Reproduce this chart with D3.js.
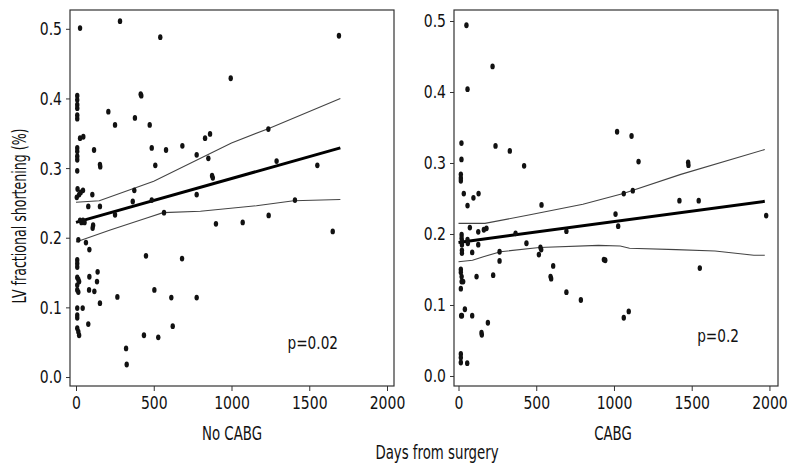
<!DOCTYPE html>
<html><head><meta charset="utf-8">
<script src="https://cdn.jsdelivr.net/npm/d3@7"></script>
<style>
body{margin:0;background:#fff;}
text{font-family:"Liberation Sans Narrow","DejaVu Sans Condensed","Roboto Condensed",sans-serif;font-stretch:condensed;fill:#111;}
</style></head>
<body><svg id="c" width="800" height="463"></svg>
<script>
// ---- data ----
const xTicks = [0, 500, 1000, 1500, 2000];
const yTicks = [0.0, 0.1, 0.2, 0.3, 0.4, 0.5];
const panelTitles = ["No CABG", "CABG"];
const pValues = ["p=0.02", "p=0.2"];

const noCabgPoints = [
[26,0.501],[283,0.511],[542,0.488],[1691,0.490],[995,0.429],
[8,0.404],[8,0.398],[8,0.391],[8,0.386],[8,0.376],[8,0.371],
[416,0.406],[420,0.404],
[208,0.381],[251,0.362],[379,0.372],[474,0.362],[487,0.329],[510,0.304],[579,0.326],[684,0.332],[776,0.319],[830,0.343],[862,0.349],[851,0.314],[875,0.289],[880,0.286],[1237,0.356],[1290,0.310],[1552,0.304],
[776,0.262],
[26,0.343],[47,0.345],[116,0.326],
[8,0.329],[8,0.324],[8,0.317],[8,0.312],[8,0.296],
[154,0.305],[156,0.302],
[10,0.270],[20,0.262],[30,0.265],[45,0.268],[5,0.258],
[105,0.262],[79,0.245],[154,0.245],[251,0.233],[375,0.268],[365,0.252],[487,0.254],[566,0.236],[900,0.220],[1072,0.222],[1239,0.232],[1651,0.209],[1408,0.254],
[26,0.225],[35,0.222],[45,0.225],[55,0.222],[107,0.214],[110,0.218],
[15,0.197],[64,0.193],[86,0.183],
[8,0.168],[8,0.163],[8,0.158],[8,0.143],[15,0.140],[20,0.137],[8,0.132],[8,0.125],[15,0.122],
[86,0.144],[84,0.125],[118,0.123],[139,0.151],[135,0.137],[154,0.106],[266,0.115],
[43,0.099],[8,0.099],[8,0.089],[8,0.085],[8,0.070],[15,0.065],[20,0.060],[79,0.076],
[450,0.174],[682,0.170],[504,0.125],[613,0.114],[776,0.114],[437,0.060],[529,0.057],[622,0.073],[322,0.041],[326,0.018]
];
const noCabgFit   = [[0,0.222],[1700,0.329]];
const noCabgUpper = [[0,0.251],[150,0.253],[500,0.281],[1000,0.336],[1240,0.357],[1700,0.400]];
const noCabgLower = [[0,0.194],[220,0.211],[450,0.228],[560,0.236],[800,0.238],[1160,0.246],[1400,0.253],[1700,0.255]];

const cabgPoints = [
[51,0.494],[58,0.404],[219,0.436],[19,0.328],[19,0.305],[15,0.284],[15,0.279],[15,0.275],[238,0.324],[330,0.317],[422,0.296],[34,0.257],[58,0.240],[96,0.251],[129,0.257],[534,0.241],
[20,0.199],[20,0.194],[22,0.190],[22,0.185],[22,0.177],[22,0.173],[73,0.209],[58,0.192],[60,0.187],[88,0.174],[127,0.203],[127,0.185],[163,0.206],[180,0.208],[367,0.201],[264,0.175],[264,0.162],[437,0.187],[517,0.171],[527,0.181],[532,0.178],[694,0.204],[592,0.140],[596,0.137],[609,0.155],[694,0.118],[787,0.107],[223,0.142],[116,0.140],
[15,0.150],[15,0.146],[20,0.140],[20,0.133],[30,0.133],[15,0.123],
[41,0.094],[17,0.085],[22,0.085],[88,0.085],[189,0.075],[148,0.061],[150,0.058],
[15,0.031],[15,0.026],[15,0.019],[56,0.018],
[1020,0.344],[1113,0.338],[1158,0.302],[1477,0.301],[1479,0.297],[1063,0.257],[1121,0.261],[1421,0.247],[1545,0.247],[1010,0.228],[1027,0.211],[1979,0.226],[935,0.164],[944,0.163],[1552,0.152],[1095,0.091],[1063,0.082]
];
const cabgFit   = [[0,0.188],[1970,0.246]];
const cabgUpper = [[0,0.215],[170,0.215],[460,0.227],[800,0.242],[1060,0.257],[1430,0.284],[1970,0.319]];
const cabgLower = [[0,0.161],[90,0.163],[160,0.168],[270,0.175],[520,0.181],[900,0.184],[1040,0.183],[1100,0.180],[1400,0.178],[1650,0.176],[1900,0.170],[1970,0.170]];

// ---- layout ----
const svg = d3.select("#c");
const panels = [
  {x0:70, x1:394, xd:[-38.6, 2045], yd:[-0.0129, 0.527], pts:noCabgPoints, fit:noCabgFit, up:noCabgUpper, lo:noCabgLower, title:panelTitles[0], tx:232, p:pValues[0], px:338, py:349},
  {x0:454, x1:778, xd:[-29, 2055], yd:[-0.0141, 0.5155], pts:cabgPoints, fit:cabgFit, up:cabgUpper, lo:cabgLower, title:panelTitles[1], tx:613, p:pValues[1], px:739, py:342}
];
const plotTop = 10, plotBottom = 386;

// horizontally condense a text element (reference uses a condensed face)
function condense(sel, f) {
  sel.each(function () {
    const L = this.getComputedTextLength();
    d3.select(this).attr("textLength", L * f).attr("lengthAdjust", "spacingAndGlyphs");
  });
}

panels.forEach(P => {
  const x = d3.scaleLinear().domain(P.xd).range([P.x0, P.x1]);
  const y = d3.scaleLinear().domain(P.yd).range([plotBottom, plotTop]);
  const g = svg.append("g");

  const ya = g.append("g").attr("transform", `translate(${P.x0},0)`)
    .call(d3.axisLeft(y).tickValues(yTicks).tickFormat(d3.format(".1f")).tickSize(4).tickPadding(4));
  const xa = g.append("g").attr("transform", `translate(0,${plotBottom})`)
    .call(d3.axisBottom(x).tickValues(xTicks).tickFormat(d3.format("d")).tickSize(5).tickPadding(5));
  [ya, xa].forEach(a => {
    a.select(".domain").remove();
    a.selectAll("line").attr("stroke", "#333");
    a.selectAll("text").style("font-size", "18.5px").attr("fill", "#111").call(condense, 0.84);
  });

  g.append("rect").attr("x", P.x0).attr("y", plotTop).attr("width", P.x1 - P.x0).attr("height", plotBottom - plotTop)
    .attr("fill", "none").attr("stroke", "#333").attr("stroke-width", 1.2);

  const line = d3.line().x(d => x(d[0])).y(d => y(d[1]));
  g.append("path").attr("d", line(P.up)).attr("fill", "none").attr("stroke", "#444").attr("stroke-width", 1.1);
  g.append("path").attr("d", line(P.lo)).attr("fill", "none").attr("stroke", "#444").attr("stroke-width", 1.1);
  g.append("path").attr("d", line(P.fit)).attr("fill", "none").attr("stroke", "#000").attr("stroke-width", 3);

  g.selectAll("ellipse").data(P.pts).join("ellipse")
    .attr("cx", d => x(d[0])).attr("cy", d => y(d[1]))
    .attr("rx", 2.2).attr("ry", 2.9).attr("fill", "#111");

  g.append("text").attr("x", P.tx).attr("y", 440).attr("text-anchor", "middle")
    .style("font-size", "20px").text(P.title).call(condense, 0.74);
  g.append("text").attr("x", P.px).attr("y", P.py).attr("text-anchor", "end")
    .style("font-size", "18.5px").text(P.p).call(condense, 0.82);
});

svg.append("text").attr("x", 437).attr("y", 459).attr("text-anchor", "middle")
  .style("font-size", "20px").text("Days from surgery").call(condense, 0.74);
svg.append("text").attr("transform", "translate(26,216) rotate(-90)").attr("text-anchor", "middle")
  .style("font-size", "20px").text("LV fractional shortening (%)").call(condense, 0.70);
</script></body></html>
